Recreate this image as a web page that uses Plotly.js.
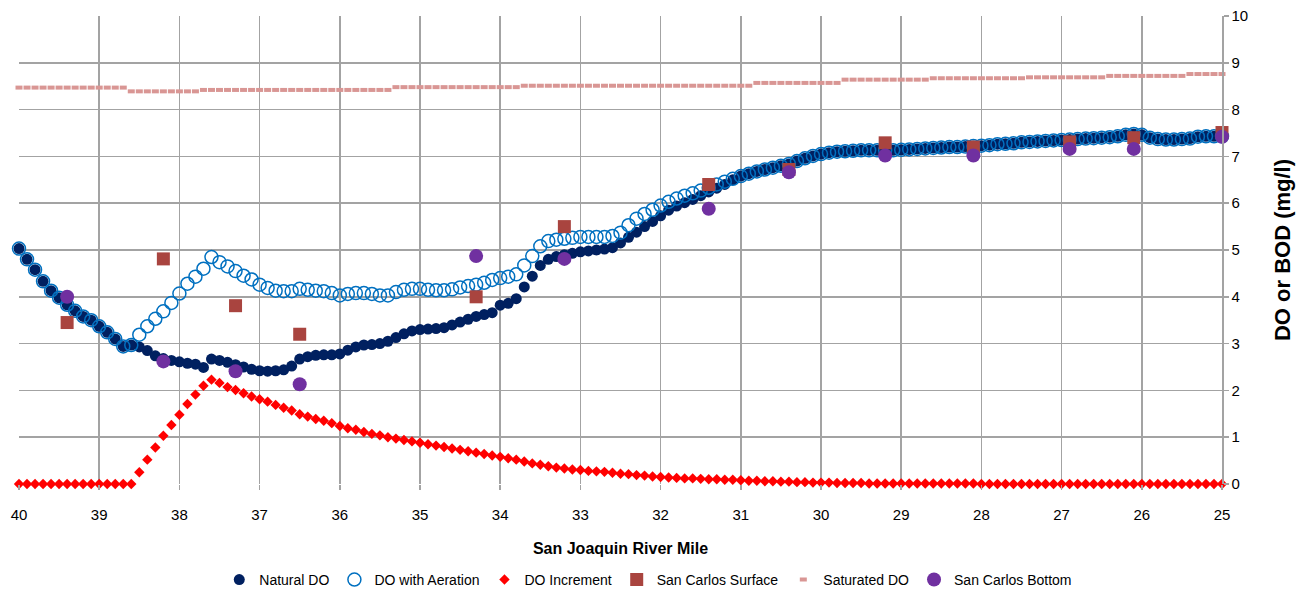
<!DOCTYPE html>
<html>
<head>
<meta charset="utf-8">
<script src="https://cdn.plot.ly/plotly-3.0.1.min.js"></script>
<style>html,body{margin:0;padding:0;background:#fff;}#chart{width:1307px;height:593px;}</style>
</head>
<body>
<div id="chart"></div>
<script>
// River mile of each model point (40.0 down to 25.0, every 0.1 mile)
const riverMile = [
40.0,39.9,39.8,39.7,39.6,39.5,39.4,39.3,39.2,39.1,
39.0,38.9,38.8,38.7,38.6,38.5,38.4,38.3,38.2,38.1,
38.0,37.9,37.8,37.7,37.6,37.5,37.4,37.3,37.2,37.1,
37.0,36.9,36.8,36.7,36.6,36.5,36.4,36.3,36.2,36.1,
36.0,35.9,35.8,35.7,35.6,35.5,35.4,35.3,35.2,35.1,
35.0,34.9,34.8,34.7,34.6,34.5,34.4,34.3,34.2,34.1,
34.0,33.9,33.8,33.7,33.6,33.5,33.4,33.3,33.2,33.1,
33.0,32.9,32.8,32.7,32.6,32.5,32.4,32.3,32.2,32.1,
32.0,31.9,31.8,31.7,31.6,31.5,31.4,31.3,31.2,31.1,
31.0,30.9,30.8,30.7,30.6,30.5,30.4,30.3,30.2,30.1,
30.0,29.9,29.8,29.7,29.6,29.5,29.4,29.3,29.2,29.1,
29.0,28.9,28.8,28.7,28.6,28.5,28.4,28.3,28.2,28.1,
28.0,27.9,27.8,27.7,27.6,27.5,27.4,27.3,27.2,27.1,
27.0,26.9,26.8,26.7,26.6,26.5,26.4,26.3,26.2,26.1,
26.0,25.9,25.8,25.7,25.6,25.5,25.4,25.3,25.2,25.1,
25.0];

const naturalDO = [
5.03,4.8,4.58,4.33,4.13,3.98,3.83,3.7,3.58,3.5,
3.37,3.24,3.1,2.94,2.97,2.93,2.85,2.74,2.68,2.64,
2.61,2.58,2.56,2.49,2.67,2.64,2.6,2.55,2.5,2.45,
2.42,2.41,2.42,2.44,2.52,2.67,2.72,2.75,2.76,2.76,
2.78,2.86,2.93,2.97,2.98,3.0,3.05,3.13,3.21,3.27,
3.3,3.31,3.32,3.34,3.4,3.46,3.52,3.58,3.62,3.66,
3.82,3.86,3.96,4.21,4.44,4.67,4.8,4.86,4.9,4.93,
4.96,4.98,5.0,5.02,5.05,5.15,5.27,5.38,5.5,5.61,
5.73,5.85,5.94,6.01,6.08,6.16,6.24,6.32,6.4,6.5,
6.58,6.63,6.68,6.72,6.76,6.8,6.84,6.9,6.96,7.01,
7.05,7.08,7.1,7.11,7.12,7.13,7.13,7.13,7.13,7.13,
7.14,7.15,7.16,7.17,7.18,7.19,7.2,7.2,7.21,7.22,
7.23,7.24,7.26,7.27,7.28,7.3,7.31,7.32,7.33,7.34,
7.35,7.36,7.37,7.38,7.39,7.4,7.41,7.43,7.46,7.48,
7.46,7.4,7.37,7.36,7.36,7.37,7.38,7.42,7.43,7.43,
7.43];

const aeratedDO = [
5.03,4.8,4.58,4.33,4.13,3.98,3.83,3.7,3.58,3.5,
3.37,3.24,3.1,2.94,2.97,3.19,3.37,3.53,3.69,3.87,
4.07,4.28,4.43,4.6,4.85,4.74,4.65,4.55,4.45,4.37,
4.26,4.19,4.13,4.12,4.12,4.17,4.15,4.13,4.12,4.08,
4.03,4.06,4.08,4.08,4.06,4.03,4.03,4.1,4.15,4.17,
4.17,4.15,4.14,4.14,4.16,4.2,4.23,4.26,4.3,4.36,
4.4,4.43,4.48,4.67,4.87,5.08,5.19,5.22,5.24,5.26,
5.28,5.28,5.28,5.28,5.3,5.37,5.53,5.67,5.77,5.86,
5.95,6.03,6.1,6.16,6.21,6.27,6.33,6.4,6.46,6.52,
6.58,6.63,6.68,6.72,6.76,6.8,6.84,6.9,6.96,7.01,
7.05,7.08,7.1,7.11,7.12,7.13,7.13,7.13,7.13,7.13,
7.14,7.15,7.16,7.17,7.18,7.19,7.2,7.2,7.21,7.22,
7.23,7.24,7.26,7.27,7.28,7.3,7.31,7.32,7.33,7.34,
7.35,7.36,7.37,7.38,7.39,7.4,7.41,7.43,7.46,7.48,
7.46,7.4,7.37,7.36,7.36,7.37,7.38,7.42,7.43,7.43,
7.43];

const doIncrement = [
0,0,0,0,0,0,0,0,0,0,
0,0,0,0,0,0.25,0.52,0.78,1.03,1.26,
1.48,1.71,1.91,2.1,2.23,2.16,2.07,2.01,1.94,1.87,
1.81,1.76,1.69,1.63,1.57,1.49,1.44,1.39,1.35,1.3,
1.24,1.19,1.16,1.11,1.07,1.04,1.0,0.97,0.94,0.91,
0.88,0.85,0.82,0.79,0.76,0.73,0.7,0.67,0.64,0.61,
0.58,0.55,0.52,0.48,0.44,0.41,0.38,0.35,0.33,0.31,
0.3,0.28,0.27,0.26,0.24,0.22,0.21,0.19,0.18,0.16,
0.15,0.14,0.13,0.12,0.12,0.11,0.1,0.1,0.09,0.09,
0.08,0.07,0.07,0.06,0.06,0.05,0.05,0.04,0.04,0.03,
0.03,0.03,0.02,0.02,0.02,0.02,0.01,0.01,0.01,0.01,
0.01,0.01,0.01,0.01,0.01,0.01,0.01,0.01,0.01,0.01,
0,0,0,0,0,0,0,0,0,0,
0,0,0,0,0,0,0,0,0,0,
0,0,0,0,0,0,0,0,0,0,
0];

const saturatedDO = [
8.47,8.47,8.47,8.47,8.47,8.47,8.47,8.47,8.47,8.47,
8.47,8.47,8.47,8.47,8.39,8.39,8.39,8.39,8.39,8.39,
8.39,8.39,8.39,8.42,8.42,8.42,8.42,8.42,8.42,8.42,
8.42,8.42,8.42,8.42,8.42,8.42,8.42,8.42,8.42,8.42,
8.42,8.42,8.42,8.42,8.42,8.42,8.42,8.48,8.48,8.48,
8.48,8.48,8.48,8.48,8.48,8.48,8.48,8.48,8.48,8.48,
8.48,8.48,8.48,8.51,8.51,8.51,8.51,8.51,8.51,8.51,
8.51,8.51,8.51,8.51,8.51,8.51,8.51,8.51,8.51,8.51,
8.51,8.51,8.51,8.51,8.51,8.51,8.51,8.51,8.51,8.51,
8.51,8.51,8.57,8.57,8.57,8.57,8.57,8.57,8.57,8.57,
8.57,8.57,8.57,8.64,8.64,8.64,8.64,8.64,8.64,8.64,
8.64,8.64,8.64,8.64,8.67,8.67,8.67,8.67,8.67,8.67,
8.67,8.67,8.67,8.67,8.67,8.67,8.69,8.69,8.69,8.69,
8.69,8.69,8.69,8.69,8.69,8.69,8.72,8.72,8.72,8.72,
8.72,8.72,8.72,8.72,8.72,8.72,8.76,8.76,8.76,8.76,
8.76];

// San Carlos field measurements
const sanCarlosMile = [39.4, 38.2, 37.3, 36.5, 34.3, 33.2, 31.4, 30.4, 29.2, 28.1, 26.9, 26.1, 25.0];
const sanCarlosSurface = [3.45, 4.81, 3.81, 3.2, 4.0, 5.5, 6.4, 6.72, 7.29, 7.2, 7.31, 7.4, 7.51];
const sanCarlosBottom = [4.0, 2.62, 2.41, 2.13, 4.87, 4.81, 5.88, 6.66, 7.02, 7.02, 7.16, 7.16, 7.42];

const xTicks = [40,39,38,37,36,35,34,33,32,31,30,29,28,27,26,25];
const yTicks = [0,1,2,3,4,5,6,7,8,9,10];

const FONT = 'Liberation Sans, Arial, sans-serif';
const GRID = '#A3A3A3';

const traces = [
  {name:'Natural DO', x:riverMile, y:naturalDO, type:'scatter', mode:'markers', cliponaxis:false,
   marker:{symbol:'circle', size:11, color:'#002060'}},
  {name:'DO with Aeration', x:riverMile, y:aeratedDO, type:'scatter', mode:'markers', cliponaxis:false,
   marker:{symbol:'circle-open', size:13, color:'#0070C0', line:{width:1.5, color:'#0070C0'}}},
  {name:'DO Increment', x:riverMile, y:doIncrement, type:'scatter', mode:'markers', cliponaxis:false,
   marker:{symbol:'diamond', size:8, color:'#FF0000'}},
  {name:'San Carlos Surface', x:sanCarlosMile, y:sanCarlosSurface, type:'scatter', mode:'markers', cliponaxis:false,
   marker:{symbol:'square', size:13, color:'#A9443F'}},
  {name:'Saturated DO', x:riverMile, y:saturatedDO, type:'scatter', mode:'markers', cliponaxis:false,
   marker:{symbol:'line-ew', size:5, color:'#D99694', line:{width:4, color:'#D99694'}}},
  {name:'San Carlos Bottom', x:sanCarlosMile, y:sanCarlosBottom, type:'scatter', mode:'markers', cliponaxis:false,
   marker:{symbol:'circle', size:14, color:'#7030A0'}}
];

const layout = {
  width:1307, height:593,
  margin:{l:19, r:85, t:16, b:109, pad:0, autoexpand:false},
  paper_bgcolor:'#ffffff', plot_bgcolor:'#ffffff',
  font:{family:FONT, size:15, color:'#000000'},
  showlegend:true,
  legend:{orientation:'h', xref:'container', x:0.496, xanchor:'center', yref:'container', y:0.022, yanchor:'middle',
          font:{family:FONT, size:14, color:'#000000'}, itemwidth:30, tracegroupgap:0},
  xaxis:{range:[40,25], tickvals:xTicks, ticktext:xTicks.map(String), automargin:false,
         showgrid:true, gridcolor:GRID, gridwidth:1.5, zeroline:false,
         showline:false, ticks:'outside', ticklen:5, tickcolor:GRID, tickwidth:1.5,
         ticklabelstandoff:12, tickfont:{family:FONT, size:15, color:'#000'},
         title:{text:'<b>San Joaquin River Mile</b>', font:{family:FONT, size:16, color:'#000'}, standoff:20}},
  yaxis:{range:[0,10], side:'right', tickvals:yTicks, ticktext:yTicks.map(String), automargin:false,
         showgrid:true, gridcolor:GRID, gridwidth:1.5, zeroline:false,
         showline:true, linecolor:GRID, linewidth:1.5, mirror:false,
         ticks:'outside', ticklen:5, tickcolor:GRID, tickwidth:1.5,
         tickfont:{family:FONT, size:15, color:'#000'},
         title:{text:'<b>DO or BOD (mg/l)</b>', font:{family:FONT, size:22, color:'#000'}, standoff:27}}
};

Plotly.newPlot('chart', traces, layout, {displayModeBar:false, staticPlot:true});
</script>
</body>
</html>
